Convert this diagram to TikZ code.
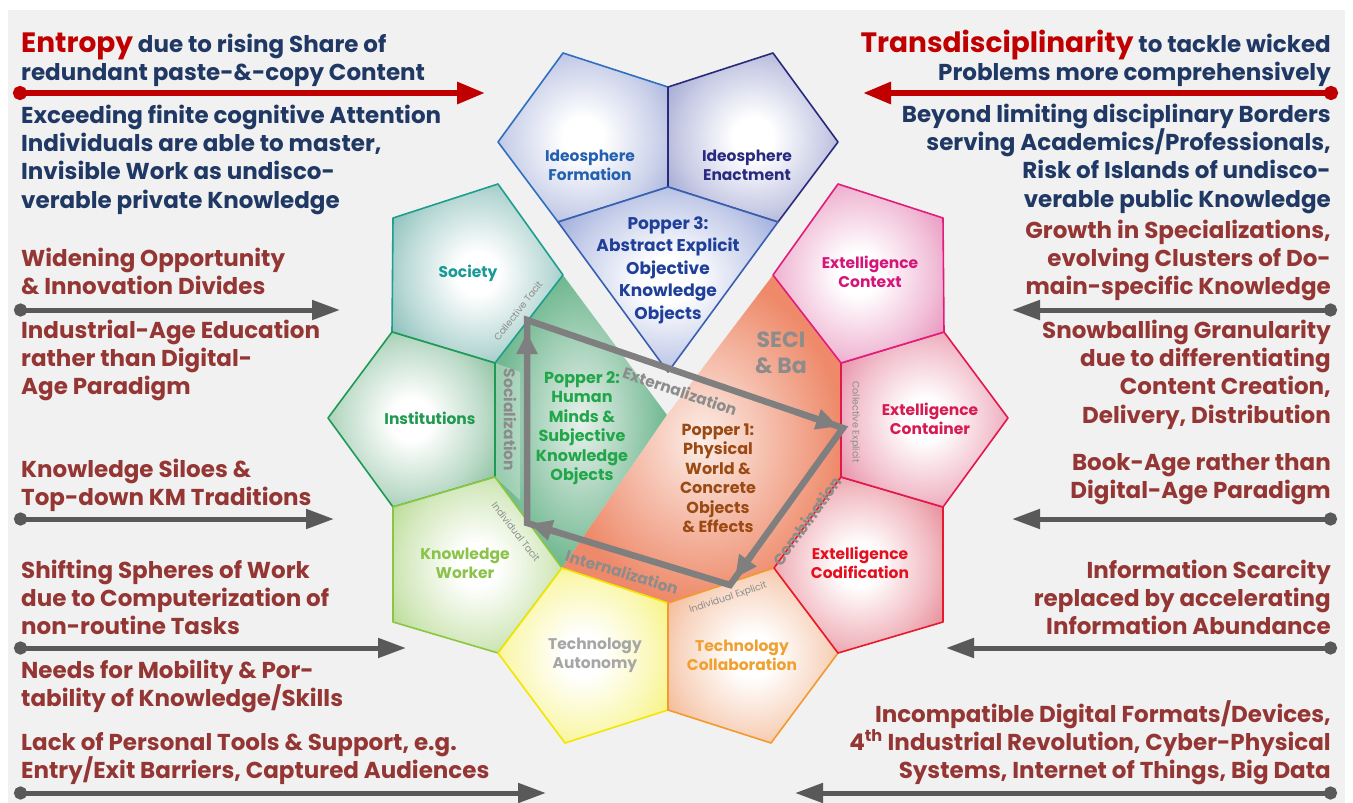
\documentclass[tikz,border=0pt]{standalone}
\usepackage{fontspec}
\setmainfont{Poppins}
\usetikzlibrary{arrows.meta,calc}
\definecolor{bgc}{HTML}{F1F1F1}
\definecolor{navy}{HTML}{1F3864}
\definecolor{tred}{HTML}{C00000}
\definecolor{maroon}{HTML}{943634}
\definecolor{agrey}{HTML}{595959}
\definecolor{sgrey}{HTML}{7F7F7F}
\definecolor{lgrey}{HTML}{8C8C8C}
% pentagon colours: outer fill / border / text
\definecolor{oIF}{HTML}{8C9BD0}\definecolor{bIF}{HTML}{2F6FC0}\definecolor{tIF}{HTML}{2460B0}
\definecolor{oIE}{HTML}{8088C2}\definecolor{bIE}{HTML}{2A2A7A}\definecolor{tIE}{HTML}{2A2A80}
\definecolor{oP3}{HTML}{7B8ECF}\definecolor{bP3}{HTML}{3A5FB0}\definecolor{tP3}{HTML}{1F3F99}
\definecolor{oSoc}{HTML}{5FA8A0}\definecolor{bSoc}{HTML}{1E9E8E}\definecolor{tSoc}{HTML}{1A9A96}
\definecolor{oIns}{HTML}{68AD82}\definecolor{bIns}{HTML}{1F9A55}\definecolor{tIns}{HTML}{1F9A4F}
\definecolor{oKW}{HTML}{A2CF72}\definecolor{bKW}{HTML}{8CC640}\definecolor{tKW}{HTML}{8BC34A}
\definecolor{oTA}{HTML}{F4EE50}\definecolor{bTA}{HTML}{F2E600}\definecolor{tTA}{HTML}{A6A6A6}
\definecolor{oTC}{HTML}{EFA070}\definecolor{bTC}{HTML}{F29A2E}\definecolor{tTC}{HTML}{F0A030}
\definecolor{oCod}{HTML}{E06474}\definecolor{bCod}{HTML}{E8192C}\definecolor{tCod}{HTML}{E3101E}
\definecolor{oCon}{HTML}{E06A8A}\definecolor{bCon}{HTML}{E0184E}\definecolor{tCon}{HTML}{D61A52}
\definecolor{oCtx}{HTML}{E070A8}\definecolor{bCtx}{HTML}{E01C7C}\definecolor{tCtx}{HTML}{D4157A}
\definecolor{tP2}{HTML}{21A64A}
\definecolor{tP1}{HTML}{9B4A14}
\definecolor{gIn}{HTML}{E8F1EC}
\definecolor{gOut}{HTML}{70B890}
\definecolor{oIn}{HTML}{FCEEE8}
\definecolor{oOut}{HTML}{EE8A6A}
\colorlet{pentouter}{gray}
\pgfdeclareradialshading[pentouter]{pentshade}{\pgfpoint{0bp}{0bp}}{color(0bp)=(white); color(6bp)=(white); color(22bp)=(pentouter!45!white); color(38bp)=(pentouter); color(50bp)=(pentouter)}
\newcommand\titlefont{\fontsize{28}{30}\selectfont}
\newcommand\sideL[4]{\foreach \ln [count=\k] in {#4}{\node[sidetxt,text=#2,anchor=base west] (#1-\k) at (21,{#3+(\k-1)*28.4}) {\ln};}}
\newcommand\sideR[4]{\foreach \ln [count=\k] in {#4}{\node[sidetxt,text=#2,anchor=base east] (#1-\k) at (1331,{#3+(\k-1)*28.4}) {\ln};}}
\begin{document}
\begin{tikzpicture}[x=1pt,y=-1pt,
  pfill/.style={/utils/exec={\colorlet{pentouter}{#1}}, shading=pentshade},
  pent/.style={line width=1.6pt, line join=round},
  plab/.style={font=\fontsize{15.5}{19}\selectfont\bfseries, align=center, inner sep=0pt},
  popt/.style={font=\fontsize{16}{19.5}\selectfont\bfseries, align=center, inner sep=0pt},
  sidetxt/.style={font=\fontsize{23}{26}\selectfont\bfseries, inner sep=0pt},
  seciline/.style={line width=6.5pt, sgrey, line join=miter},
  seciarrow/.style={line width=6.5pt, sgrey, -{Triangle[length=22pt,width=20pt]}},
  secilab/.style={font=\fontsize{15.5}{18}\selectfont\bfseries, text=lgrey, inner sep=0pt},
  smalllab/.style={font=\fontsize{9.5}{11}\selectfont, text=lgrey, inner sep=0pt},
  greyarrow/.style={line width=5pt, agrey, {Circle[length=13pt,width=13pt]}-{Triangle[length=28pt,width=19pt]}},
  redarrow/.style={line width=6pt, tred, {Circle[length=14pt,width=14pt]}-{Triangle[length=28pt,width=21pt]}}
]
\useasboundingbox (0,0) rectangle (1353,803);
\fill[white] (0,0) rectangle (1353,803);
\fill[bgc] (8,10) rectangle (1345,803);

% central regions
\shade[inner color=gIn, outer color=gOut] (563,275) -- (667,415) -- (562,568) -- (495,477) -- (495,363) -- cycle;
\fill[white,opacity=0.3] (495,363) -- (520,372) -- (520,500) -- (495,477) -- cycle;
\shade[inner color=oIn, outer color=oOut] (773,275) -- (841,363) -- (841,477) -- (774,568) -- (668,603) -- (562,568) -- (667,415) -- cycle;

% top blue pentagons
\shadedraw[pfill=oIF, draw=bIF, pent] (563,53) -- (668,87) -- (668,187) -- (558,222) -- (498,142) -- cycle;
\shadedraw[pfill=oIE, draw=bIE, pent] (773,53) -- (838,142) -- (778,222) -- (668,187) -- (668,87) -- cycle;
\shadedraw[pfill=oP3, draw=bP3, pent] (558,222) -- (668,187) -- (778,222) -- (668,372) -- cycle;
% left ring
\shadedraw[pfill=oSoc, draw=bSoc, pent] (393,218) -- (498,184) -- (563,275) -- (495,363) -- (392,332) -- cycle;
\shadedraw[pfill=oIns, draw=bIns, pent] (392,332) -- (495,363) -- (495,477) -- (393,507) -- (328,418) -- cycle;
\shadedraw[pfill=oKW, draw=bKW, pent] (393,507) -- (495,477) -- (562,568) -- (498,653) -- (393,622) -- cycle;
\shadedraw[pfill=oTA, draw=bTA, pent] (562,568) -- (668,603) -- (668,710) -- (565,743) -- (498,653) -- cycle;
% right ring
\shadedraw[pfill=oTC, draw=bTC, pent] (668,603) -- (774,568) -- (838,653) -- (771,743) -- (668,710) -- cycle;
\shadedraw[pfill=oCod, draw=bCod, pent] (841,477) -- (943,507) -- (943,622) -- (838,653) -- (774,568) -- cycle;
\shadedraw[pfill=oCon, draw=bCon, pent] (841,363) -- (944,332) -- (1008,418) -- (943,507) -- (841,477) -- cycle;
\shadedraw[pfill=oCtx, draw=bCtx, pent] (773,275) -- (838,184) -- (943,218) -- (944,332) -- (841,363) -- cycle;

% pentagon labels
\node[plab, text=tIF] (nIF) at (590,165) {Ideosphere\\Formation};
\node[plab, text=tIE] (nIE) at (747,165) {Ideosphere\\Enactment};
\node[plab, text=tSoc] (nSoc) at (468,273) {Society};
\node[plab, text=tIns] (nIns) at (430,418) {Institutions};
\node[plab, text=tKW] (nKW) at (465,563) {Knowledge\\Worker};
\node[plab, text=tTA] (nTA) at (595,655) {Technology\\Autonomy};
\node[plab, text=tTC] (nTC) at (742,655) {Technology\\Collaboration};
\node[plab, text=tCod] (nCod) at (860,563) {Extelligence\\Codification};
\node[plab, text=tCon] (nCon) at (930,419) {Extelligence\\Container};
\node[plab, text=tCtx] (nCtx) at (870,272) {Extelligence\\Context};

% Popper texts
\node[popt, font=\fontsize{17}{22.5}\selectfont\bfseries, text=tP3] (nP3) at (668,270) {Popper 3:\\Abstract Explicit\\Objective\\Knowledge\\Objects};
\node[popt, text=tP2] (nP2) at (582,428) {Popper 2:\\Human\\Minds \&\\Subjective\\Knowledge\\Objects};
\node[popt, text=tP1] (nP1) at (718,478) {Popper 1:\\Physical\\World \&\\Concrete\\Objects\\\& Effects};
\node[popt, font=\fontsize{22}{26}\selectfont\bfseries, text=lgrey] (nSECI) at (781,353) {SECI\\\& Ba};

% small edge labels
\node[smalllab, rotate=52] (lCT) at (518,311) {Collective Tacit};
\node[smalllab, rotate=-52] (lIT) at (516,532) {Individual Tacit};
\node[smalllab, rotate=18] (lIE) at (728,598) {Individual Explicit};
\node[smalllab, rotate=-90] (lCE) at (855,422) {Collective Explicit};

% SECI cycle
\coordinate (s1) at (527,523);
\coordinate (s2) at (527,320);
\coordinate (s3) at (843,428);
\coordinate (s4) at (730,585);
\draw[seciline] (s1) -- (s2) -- (s3) -- (s4) -- cycle;
\draw[seciarrow] ($(s1)!0.80!(s2)$) -- ($(s1)!0.94!(s2)$);
\draw[seciarrow] ($(s2)!0.85!(s3)$) -- ($(s2)!0.985!(s3)$);
\draw[seciarrow] ($(s3)!0.80!(s4)$) -- ($(s3)!0.955!(s4)$);
\draw[seciarrow] ($(s4)!0.85!(s1)$) -- ($(s4)!0.985!(s1)$);
\node[secilab, rotate=-90] (lSoc) at (510,420) {Socialization};
\node[secilab, rotate=-19] (lExt) at (680,391) {Externalization};
\node[secilab, rotate=54] (lCom) at (807,521) {Combination};
\node[secilab, rotate=-17] (lInt) at (622,572) {Internalization};

% left texts
\sideL{LT}{navy}{52}{{{\titlefont\color{tred}Entropy} due to rising Share of},{redundant paste-\&-copy Content}}
\sideL{LA}{navy}{123}{{Exceeding finite cognitive Attention},{Individuals are able to master,},{Invisible Work as undisco-},{verable private Knowledge}}
\sideL{LB}{maroon}{266}{{Widening Opportunity},{\& Innovation Divides}}
\sideL{LC}{maroon}{338}{{Industrial-Age Education},{rather than Digital-},{Age Paradigm}}
\sideL{LD}{maroon}{477}{{Knowledge Siloes \&},{Top-down KM Traditions}}
\sideL{LE}{maroon}{578}{{Shifting Spheres of Work},{due to Computerization of},{non-routine Tasks}}
\sideL{LF}{maroon}{678}{{Needs for Mobility \& Por-},{tability of Knowledge/Skills}}
\sideL{LG}{maroon}{750}{{Lack of Personal Tools \& Support, e.g.},{Entry/Exit Barriers, Captured Audiences}}

% right texts
\sideR{RT}{navy}{52}{{{\titlefont\color{tred}Transdisciplinarity} to tackle wicked},{Problems more comprehensively}}
\sideR{RA}{navy}{122}{{Beyond limiting disciplinary Borders},{serving Academics/Professionals,},{Risk of Islands of undisco-},{verable public Knowledge}}
\sideR{RB}{maroon}{238}{{Growth in Specializations,},{evolving Clusters of Do-},{main-specific Knowledge}}
\sideR{RC}{maroon}{338}{{Snowballing Granularity},{due to differentiating},{Content Creation,},{Delivery, Distribution}}
\sideR{RD}{maroon}{470}{{Book-Age rather than},{Digital-Age Paradigm}}
\sideR{RE}{maroon}{578}{{Information Scarcity},{replaced by accelerating},{Information Abundance}}
\sideR{RF}{maroon}{722}{{Incompatible Digital Formats/Devices,},{4\textsuperscript{th} Industrial Revolution, Cyber-Physical},{Systems, Internet of Things, Big Data}}

% arrows
\coordinate (ra1s) at (13,93);   \coordinate (ra1e) at (485,93);
\coordinate (ra2s) at (1338,93); \coordinate (ra2e) at (863,93);
\draw[redarrow] (ra1s) -- (ra1e);
\draw[redarrow] (ra2s) -- (ra2e);
\coordinate (la1s) at (14,310); \coordinate (la1e) at (340,310);
\coordinate (la2s) at (14,519); \coordinate (la2e) at (334,519);
\coordinate (la3s) at (14,648); \coordinate (la3e) at (406,648);
\coordinate (la4s) at (14,793); \coordinate (la4e) at (546,793);
\coordinate (rb1s) at (1337,310); \coordinate (rb1e) at (1012,310);
\coordinate (rb2s) at (1337,519); \coordinate (rb2e) at (1012,519);
\coordinate (rb3s) at (1337,648); \coordinate (rb3e) at (946,648);
\coordinate (rb4s) at (1337,793); \coordinate (rb4e) at (795,793);
\foreach \a in {la1,la2,la3,la4,rb1,rb2,rb3,rb4}{\draw[greyarrow] (\a s) -- (\a e);}
\end{tikzpicture}
\end{document}
